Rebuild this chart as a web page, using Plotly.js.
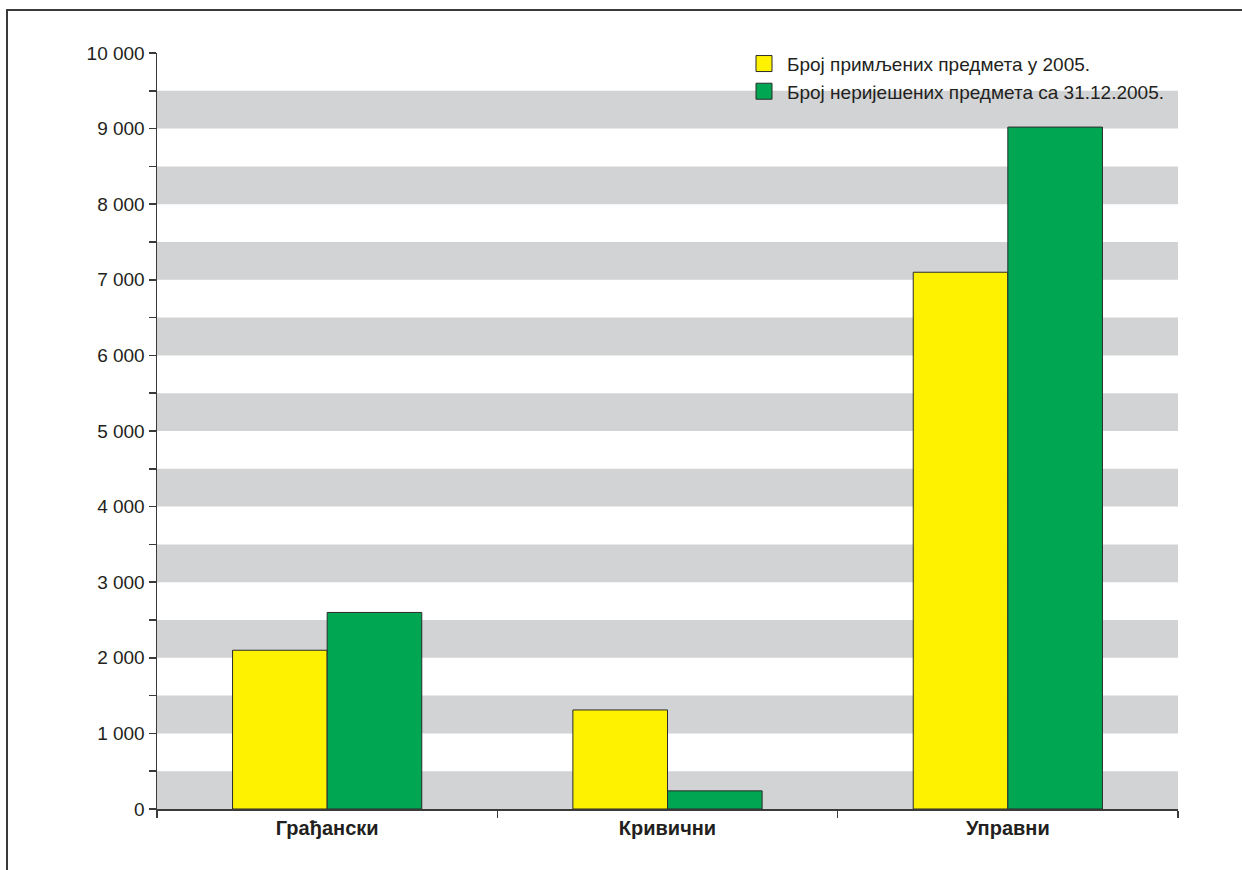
<!DOCTYPE html>
<html>
<head>
<meta charset="utf-8">
<script src="https://cdn.plot.ly/plotly-3.0.1.min.js"></script>
<style>
  html, body { margin: 0; padding: 0; background: #fff; }
  #wrap { position: relative; width: 1242px; height: 870px; }
  #chart { position: absolute; left: 0; top: 0; width: 1242px; height: 870px; }
  #frame { position: absolute; left: 6px; top: 9px; right: 0; bottom: 0;
           border-top: 2px solid #3a3a3a; border-left: 2px solid #3a3a3a; pointer-events: none; }
</style>
</head>
<body>
<div id="wrap">
  <div id="chart"></div>
  <div id="frame"></div>
</div>
<script>
const categories = ["Грађански", "Кривични", "Управни"];
const seriesNames = ["Број примљених предмета у 2005.", "Број неријешених предмета са 31.12.2005."];
const received2005 = [2100, 1310, 7100];
const unresolved20051231 = [2600, 240, 9020];
const yTickValues = [0, 1000, 2000, 3000, 4000, 5000, 6000, 7000, 8000, 9000, 10000];
const seriesColors = ['#fff200', '#00a651'];

const FONT = '"Liberation Sans", Arial, sans-serif';

const traces = [
  { type: 'bar', name: seriesNames[0], x: categories, y: received2005, showlegend: false,
    marker: { color: seriesColors[0], line: { color: '#2b2b2b', width: 1 } } },
  { type: 'bar', name: seriesNames[1], x: categories, y: unresolved20051231, showlegend: false,
    marker: { color: seriesColors[1], line: { color: '#2b2b2b', width: 1 } } }
];
// legend-only entries with larger square swatches
seriesNames.forEach((n, i) => {
  traces.push({ type: 'scatter', mode: 'markers', name: n, x: [null], y: [null], showlegend: true,
    marker: { symbol: 'square', size: 20, color: seriesColors[i], line: { color: '#2b2b2b', width: 1 } } });
});

const shapes = [];
for (let v = 0; v < 10000; v += 1000) {
  shapes.push({ type: 'rect', layer: 'below', xref: 'paper', yref: 'y',
    x0: 0, x1: 1, y0: v, y1: v + 500, fillcolor: '#d1d3d4', line: { width: 0 } });
}

const layout = {
  width: 1242, height: 870,
  margin: { l: 157, r: 64, t: 53, b: 61, pad: 0 },
  paper_bgcolor: 'rgba(0,0,0,0)', plot_bgcolor: 'rgba(0,0,0,0)',
  font: { family: FONT, size: 19, color: '#231f20' },
  separators: ', ',
  barmode: 'group', bargap: 0.444, bargroupgap: 0,
  showlegend: true,
  legend: { x: 0.572, y: 1.011, xanchor: 'left', yanchor: 'top', itemsizing: 'trace',
    bgcolor: 'rgba(0,0,0,0)', font: { family: FONT, size: 19, color: '#231f20' },
    tracegroupgap: 0, itemwidth: 36 },
  xaxis: { type: 'category', showgrid: false, zeroline: false,
    showline: true, linecolor: '#3a3a3a', linewidth: 1.5,
    ticks: 'outside', tickson: 'boundaries', ticklen: 7, tickcolor: '#3a3a3a', tickwidth: 1.5,
    tickfont: { family: FONT, size: 20, color: '#231f20', weight: 'bold' }, fixedrange: true },
  yaxis: { range: [0, 10000], tickvals: yTickValues, tickformat: ',d',
    showgrid: false, zeroline: false, showline: true, linecolor: '#3a3a3a', linewidth: 1.5,
    ticks: 'outside', ticklen: 7, tickcolor: '#3a3a3a', tickwidth: 1.5,
    minor: { dtick: 500, tick0: 0, ticks: 'outside', ticklen: 7, tickcolor: '#3a3a3a', tickwidth: 1.5, showgrid: false },
    tickfont: { family: FONT, size: 19, color: '#231f20' }, fixedrange: true },
  shapes: shapes
};

Plotly.newPlot('chart', traces, layout, { displayModeBar: false, staticPlot: true });
</script>
</body>
</html>
